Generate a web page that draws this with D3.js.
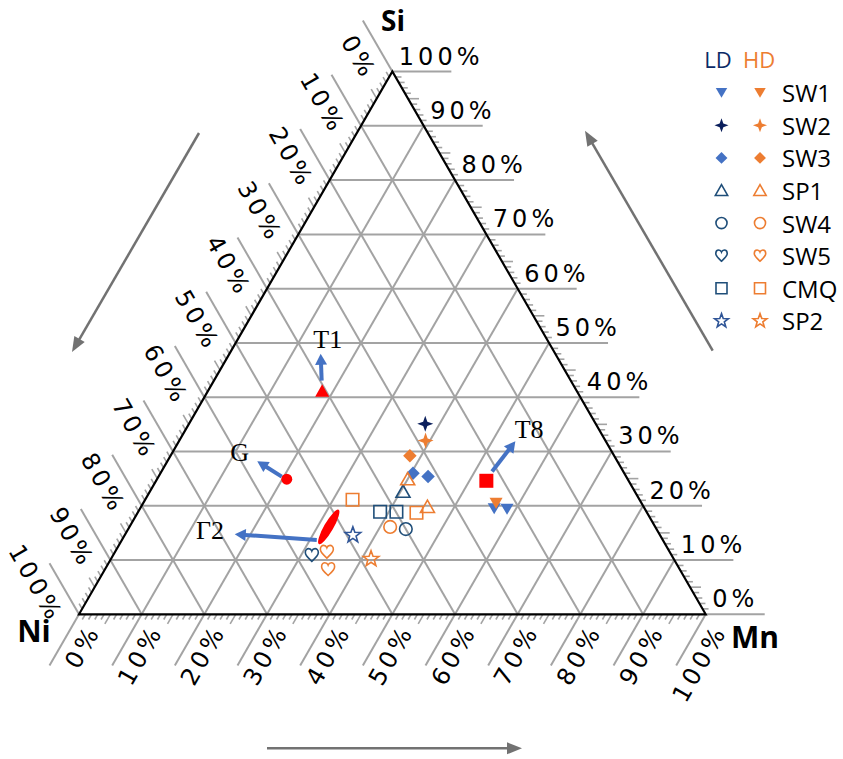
<!DOCTYPE html>
<html>
<head>
<meta charset="utf-8">
<script src="https://cdn.jsdelivr.net/npm/d3@7"></script>
<style>
  html, body { margin: 0; padding: 0; background: #fff; }
  svg { display: block; }
</style>
</head>
<body>
<svg id="chart" width="843" height="759"></svg>
<script>
// ---- Data -------------------------------------------------------------
const components = ["Si", "Ni", "Mn"];
const gridPercents = [0, 10, 20, 30, 40, 50, 60, 70, 80, 90, 100];
const tickLabels = gridPercents.map(v => v + "%");

const seriesNames = ["SW1", "SW2", "SW3", "SP1", "SW4", "SW5", "CMQ", "SP2"];
const groupNames = ["LD", "HD"];

// at.% Si and Mn of each measured point (Ni = 100 - Si - Mn)
const ldSi = [[19.5, 19.4], [35.1], [26.0, 25.4], [22.6], [15.7], [10.9], [18.9, 18.9], [14.6]];
const ldMn = [[56.5, 58.6], [37.7], [40.3, 43.0], [40.4], [44.3], [31.7], [38.6, 41.2], [36.4]];
const hdSi = [[20.5], [32.0], [29.2], [24.9, 19.8], [16.1], [11.5, 8.3], [21.1, 18.7], [10.2]];
const hdMn = [[56.3], [39.3], [38.2], [40.0, 45.7], [41.6], [33.8, 35.6], [33.1, 44.5], [41.5]];

// reference phases
const phaseNames = ["T1", "G", "Γ2", "T8"];
const phaseSi = [41.2, 24.9, 16.1, 24.6];
const phaseMn = [18.2, 20.7, 31.8, 52.7];
const gamma2SiRange = [13.1, 19.1];   // Γ2 homogeneity range along constant Mn

// ---- Layout -----------------------------------------------------------
const svg = d3.select("#chart");
svg.append("rect").attr("width", 843).attr("height", 759).attr("fill", "#fff");

const origin = { x: 79, y: 614.3 };     // Ni corner
const sideLen = 626.7;
const S3 = Math.sqrt(3) / 2;
const side = d3.scaleLinear().domain([0, 100]).range([0, sideLen]);

function P(si, mn) {
  return [origin.x + side(mn) + side(si) / 2, origin.y - side(si) * S3];
}

const gridColor = "#a3a3a3";
const extLen = 59;
const upLeft = [-0.5, -S3];
const downLeft = [-0.5, S3];

const gGrid = svg.append("g");
const line = (a, b, color, w) => gGrid.append("line")
  .attr("x1", a[0]).attr("y1", a[1]).attr("x2", b[0]).attr("y2", b[1])
  .attr("stroke", color).attr("stroke-width", w);

// interior grid
gridPercents.filter(k => k > 0 && k < 100).forEach(k => {
  line(P(k, 0), P(k, 100 - k), gridColor, 2);           // Si
  line(P(100 - k, 0), P(0, 100 - k), gridColor, 2);     // Ni
  line(P(100 - k, k), P(0, k), gridColor, 2);           // Mn
});

// grid extensions beyond the edges
gridPercents.forEach(k => {
  const a = P(k, 100 - k);
  line(a, [a[0] + extLen, a[1]], gridColor, 2);
  const b = P(100 - k, 0);
  line(b, [b[0] + upLeft[0] * extLen, b[1] + upLeft[1] * extLen], gridColor, 2);
  const c = P(0, k);
  line(c, [c[0] + downLeft[0] * extLen, c[1] + downLeft[1] * extLen], gridColor, 2);
});

// minor ticks
d3.range(1, 100).filter(k => k % 10 !== 0).forEach(k => {
  const len = k % 5 === 0 ? 11 : 6;
  const a = P(k, 100 - k);
  line(a, [a[0] + len, a[1]], gridColor, 1.6);
  const b = P(100 - k, 0);
  line(b, [b[0] + upLeft[0] * len, b[1] + upLeft[1] * len], gridColor, 1.6);
  const c = P(0, k);
  line(c, [c[0] + downLeft[0] * len, c[1] + downLeft[1] * len], gridColor, 1.6);
});

// triangle edges
svg.append("path")
  .attr("d", d3.line()([P(0, 0), P(0, 100), P(100, 0)]) + "Z")
  .attr("fill", "none").attr("stroke", "#000").attr("stroke-width", 2.2)
  .attr("stroke-linejoin", "miter");

// ---- Tick labels ------------------------------------------------------
const tickFont = { family: "DejaVu Sans", size: 24, ls: 4 };
const gLab = svg.append("g")
  .attr("font-family", tickFont.family)
  .attr("font-size", tickFont.size)
  .attr("letter-spacing", tickFont.ls)
  .attr("fill", "#000");

gridPercents.forEach((k, i) => {
  // Si, right side
  const a = P(k, 100 - k);
  gLab.append("text").attr("x", a[0] + 6.5).attr("y", a[1] - 7).text(tickLabels[i]);
  // Ni, left side (reads downward along the grid line)
  const b = P(100 - k, 0);
  const nb = [-S3, 0.5];
  const bx = b[0] + upLeft[0] * 6 + nb[0] * 22;
  const by = b[1] + upLeft[1] * 6 + nb[1] * 22;
  gLab.append("text")
    .attr("transform", `translate(${bx},${by}) rotate(60)`)
    .attr("text-anchor", "end").attr("dominant-baseline", "central")
    .text(tickLabels[i]);
  // Mn, bottom (reads upward along the grid line)
  const c = P(0, k);
  const nc = [S3, 0.5];
  const cx = c[0] + downLeft[0] * 3 + nc[0] * 19.5;
  const cy = c[1] + downLeft[1] * 3 + nc[1] * 19.5;
  gLab.append("text")
    .attr("transform", `translate(${cx},${cy}) rotate(-60)`)
    .attr("text-anchor", "end").attr("dominant-baseline", "central")
    .text(tickLabels[i]);
});

// vertex labels
const vFont = "'Open Sans', sans-serif";
const vertexPos = [[393, 30.5], [34, 642], [755, 648]];
const vertexSize = [28, 30, 30];
components.forEach((c, i) => {
  svg.append("text").attr("x", vertexPos[i][0]).attr("y", vertexPos[i][1])
    .attr("text-anchor", "middle").attr("font-family", vFont)
    .attr("font-weight", 700).attr("font-size", vertexSize[i]).attr("fill", "#000").text(c);
});

// ---- Direction arrows -------------------------------------------------
function arrow(g, x1, y1, x2, y2, color, width, headLen, headHalf) {
  const dx = x2 - x1, dy = y2 - y1, L = Math.hypot(dx, dy);
  const ux = dx / L, uy = dy / L;
  const bx = x2 - ux * headLen, by = y2 - uy * headLen;
  g.append("line").attr("x1", x1).attr("y1", y1).attr("x2", bx + ux).attr("y2", by + uy)
    .attr("stroke", color).attr("stroke-width", width);
  g.append("path").attr("d", d3.line()([
    [x2, y2], [bx - uy * headHalf, by + ux * headHalf], [bx + uy * headHalf, by - ux * headHalf]
  ]) + "Z").attr("fill", color);
}
const gArr = svg.append("g");
arrow(gArr, 199, 133, 72, 352, "#727272", 2.5, 15, 6);
arrow(gArr, 712.7, 350.7, 585, 130.7, "#727272", 2.5, 15, 6);
arrow(gArr, 267, 748.3, 522, 748.3, "#727272", 2.5, 15, 6);

// ---- Marker shapes ----------------------------------------------------
function starPath(n, ro, ri) {
  const pts = d3.range(n * 2).map(i => {
    const r = i % 2 === 0 ? ro : ri;
    const a = -Math.PI / 2 + i * Math.PI / n;
    return [r * Math.cos(a), r * Math.sin(a)];
  });
  return d3.line()(pts) + "Z";
}
function heartPath(s) {
  const k = s / 13;
  const p = [
    [0, 6.2], [-1.5, 4.6], [-6.5, 1], [-6.5, -2.6], [-6.5, -5.3], [-4.6, -6.5], [-3.2, -6.5],
    [-1.6, -6.5], [-0.5, -5.5], [0, -4.2], [0.5, -5.5], [1.6, -6.5], [3.2, -6.5],
    [4.6, -6.5], [6.5, -5.3], [6.5, -2.6], [6.5, 1], [1.5, 4.6], [0, 6.2]
  ].map(([x, y]) => [x * k, y * k]);
  let d = `M${p[0]}`;
  for (let i = 1; i < p.length; i += 3) d += `C${p[i]} ${p[i + 1]} ${p[i + 2]}`;
  return d + "Z";
}
function shape(type, s) {
  const h = s / 2;
  switch (type) {
    case "triDown": return `M${-h},${-h * 0.8}L${h},${-h * 0.8}L0,${h * 0.9}Z`;
    case "triUp": return `M0,${-h * 0.95}L${h},${h * 0.8}L${-h},${h * 0.8}Z`;
    case "star4": {
      const w = s * 0.13;
      return `M0,${-h}L${w},${-w}L${h},0L${w},${w}L0,${h}L${-w},${w}L${-h},0L${-w},${-w}Z`;
    }
    case "diamond": return `M0,${-h}L${h},0L0,${h}L${-h},0Z`;
    case "circle": return `M${h},0A${h},${h} 0 1 1 ${-h},0A${h},${h} 0 1 1 ${h},0Z`;
    case "square": return `M${-h},${-h}H${h}V${h}H${-h}Z`;
    case "star5": return starPath(5, h * 1.1, h * 0.45);
    case "heart": return heartPath(s);
  }
}
const seriesShape = ["triDown", "star4", "diamond", "triUp", "circle", "heart", "square", "star5"];
const seriesFilled = [true, true, true, false, false, false, false, false];
const seriesSize = [13, 16, 13.5, 14, 12.6, 13, 12.5, 15];
const ldColors = ["#4472C4", "#0B1F5C", "#4472C4", "#1F4E79", "#1F4E79", "#1F4E79", "#1F4E79", "#2F5597"];
const hdColor = "#ED7D31";

function drawMarker(g, x, y, i, color, scale) {
  const p = g.append("path").attr("transform", `translate(${x},${y})`)
    .attr("d", shape(seriesShape[i], seriesSize[i] * scale));
  if (seriesFilled[i]) p.attr("fill", color);
  else p.attr("fill", "none").attr("stroke", color).attr("stroke-width", 1.6);
}

// ---- Data points ------------------------------------------------------
const gPts = svg.append("g");
seriesNames.forEach((name, i) => {
  ldSi[i].forEach((si, j) => {
    const [x, y] = P(si, ldMn[i][j]);
    drawMarker(gPts, x, y, i, ldColors[i], 1);
  });
  hdSi[i].forEach((si, j) => {
    const [x, y] = P(si, hdMn[i][j]);
    drawMarker(gPts, x, y, i, hdColor, 1);
  });
});

// ---- Reference phases -------------------------------------------------
const red = "#FF0000";
const blue = "#4472C4";
const gPh = svg.append("g");
const phasePx = phaseNames.map((n, i) => P(phaseSi[i], phaseMn[i]));

// T1: triangle
gPh.append("path").attr("transform", `translate(${phasePx[0]})`)
  .attr("d", `M0,-6.5L7,6L-7,6Z`).attr("fill", red);
// G: dot
gPh.append("circle").attr("cx", phasePx[1][0]).attr("cy", phasePx[1][1]).attr("r", 5.5).attr("fill", red);
// Γ2: elongated range
{
  const a = P(gamma2SiRange[0], phaseMn[2]);
  const b = P(gamma2SiRange[1], phaseMn[2]);
  const cx = (a[0] + b[0]) / 2, cy = (a[1] + b[1]) / 2;
  const len = Math.hypot(b[0] - a[0], b[1] - a[1]);
  const ang = Math.atan2(b[1] - a[1], b[0] - a[0]) * 180 / Math.PI;
  gPh.append("ellipse").attr("transform", `translate(${cx},${cy}) rotate(${ang})`)
    .attr("rx", len / 2 + 1).attr("ry", 4.6).attr("fill", red);
}
// T8: square
gPh.append("rect").attr("x", phasePx[3][0] - 7).attr("y", phasePx[3][1] - 7)
  .attr("width", 14).attr("height", 14).attr("fill", red);

// arrows and labels relative to each phase mark
const arrowFrom = [[-0.5, -10], [-5, -2.5], [-12, 13], [5.7, -9.3]];
const arrowTo = [[-1.5, -37], [-29.5, -18], [-94, 7.3], [29, -39.5]];
const labelAt = [[5.6, -51.5], [-47.2, -26.2], [-118.8, 4], [42.8, -51.3]];
phaseNames.forEach((n, i) => {
  const [px, py] = phasePx[i];
  arrow(gPh, px + arrowFrom[i][0], py + arrowFrom[i][1], px + arrowTo[i][0], py + arrowTo[i][1],
        blue, 4, 11, 6);
  gPh.append("text").attr("x", px + labelAt[i][0]).attr("y", py + labelAt[i][1])
    .attr("text-anchor", "middle").attr("dominant-baseline", "central")
    .attr("font-family", "'Liberation Serif', 'Times New Roman', serif")
    .attr("font-size", 26).attr("fill", "#000").text(n);
});

// ---- Legend -----------------------------------------------------------
const gLeg = svg.append("g").attr("font-family", "'Open Sans', sans-serif");
const legLD = 721.5, legHD = 760, legText = 782, legTop = 92.7, legStep = 32.6;
gLeg.append("text").attr("x", 718).attr("y", 68).attr("text-anchor", "middle")
  .attr("font-size", 22).attr("fill", "#0B2A66").text(groupNames[0]);
gLeg.append("text").attr("x", 759).attr("y", 68).attr("text-anchor", "middle")
  .attr("font-size", 22).attr("fill", hdColor).text(groupNames[1]);
seriesNames.forEach((name, i) => {
  const y = legTop + i * legStep;
  drawMarker(gLeg, legLD, y, i, ldColors[i], 0.88);
  drawMarker(gLeg, legHD, y, i, hdColor, 0.88);
  gLeg.append("text").attr("x", legText).attr("y", y).attr("dominant-baseline", "central")
    .attr("font-size", 24).attr("fill", "#000").text(name);
});
</script>
</body>
</html>
